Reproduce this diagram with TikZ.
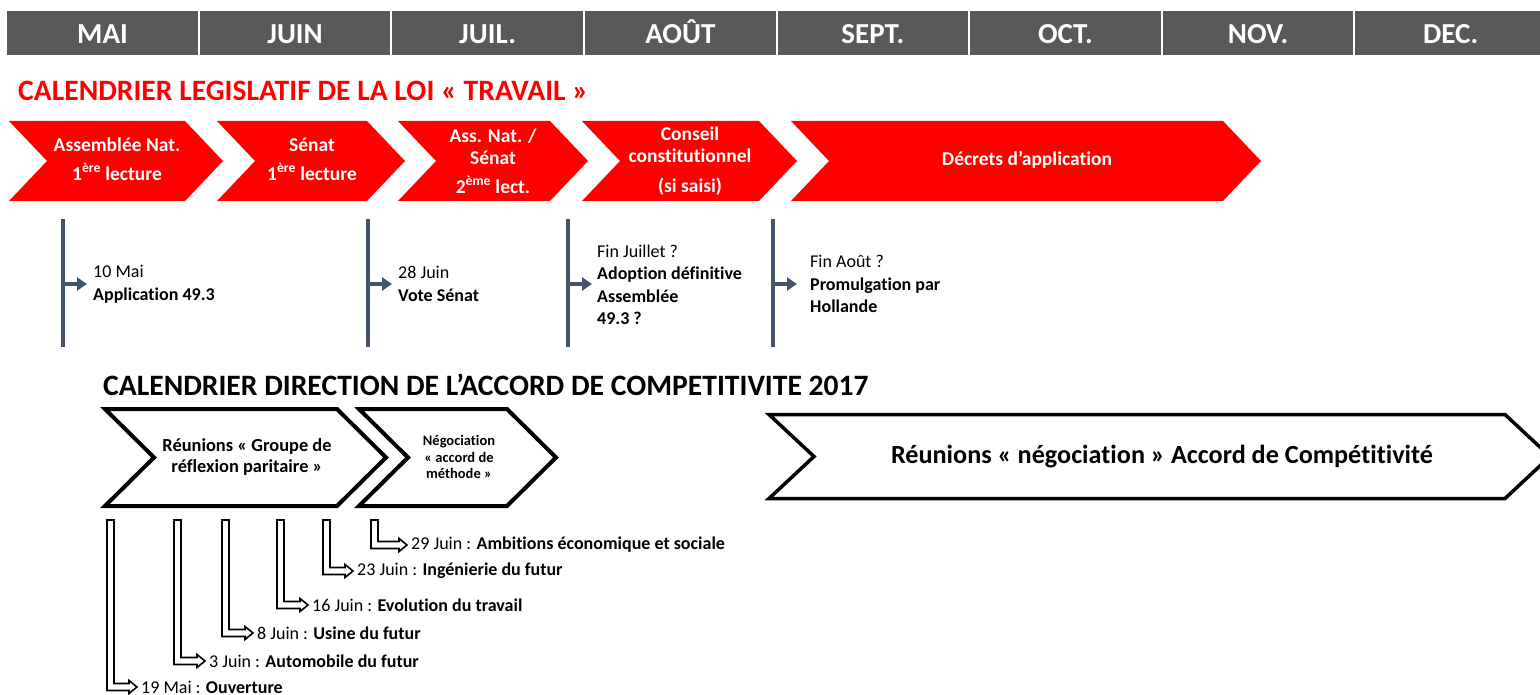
\documentclass[tikz,border=0pt]{standalone}
\usepackage{fontspec}
\setmainfont{Carlito}[Ligatures=NoCommon]
\usetikzlibrary{arrows.meta}

\definecolor{moisgris}{HTML}{595959}
\definecolor{ardoise}{HTML}{44546A}
\definecolor{rouge}{HTML}{FF0000}

\tikzset{
  mois/.style={anchor=north west, fill=moisgris, text=white, inner sep=0pt,
    minimum width=190.6pt, minimum height=44pt, text height=20pt, text depth=0pt,
    font=\bfseries\fontsize{29}{31}\selectfont},
  titre/.style={anchor=base west, inner sep=0pt, font=\bfseries\fontsize{29.6}{32}\selectfont},
  etape/.style={fill=rouge},
  etape texte/.style={text=white, align=center, inner sep=0pt,
    font=\bfseries\fontsize{19.5}{22}\selectfont},
  phase/.style={draw=black, line width=4pt, fill=white, line join=miter},
  phase texte/.style={align=center, inner sep=0pt, font=\bfseries\fontsize{18.4}{21}\selectfont},
  jalon/.style={draw=ardoise, line width=4pt},
  fleche/.style={draw=ardoise, line width=4pt, -{Triangle[length=10pt, width=13pt]}},
  note/.style={anchor=west, align=left, inner sep=0pt, font=\fontsize{18}{22.5}\selectfont},
  coude/.style={draw=black, line width=1.6pt, fill=white, line join=miter},
  reunion/.style={anchor=west, inner sep=0pt, font=\fontsize{18}{20}\selectfont},
}

\begin{document}
\begin{tikzpicture}[x=1pt, y=-1pt, >=stealth]
  \useasboundingbox (0,0) rectangle (1540,695);

  % months
  \foreach \m [count=\i from 0] in {MAI,JUIN,JUIL.,AOÛT,SEPT.,OCT.,NOV.,DEC.}
  \node [mois] (mois-\i) at (7+\i*192.6, 11) {\m};

  % titles
  \node [titre, text=rouge] (titre-loi) at (18,101) {CALENDRIER LEGISLATIF DE LA LOI « TRAVAIL »};
  \node [titre] (titre-accord) at (103,395) {CALENDRIER DIRECTION DE L’ACCORD DE COMPETITIVITE 2017};

  % red steps
  \foreach \g/\d in {9/185, 217/367, 398/550, 582/759, 791/1223}
  \path [etape] (\g,121) -- (\d,121) -- (\d+38,161) -- (\d,201) -- (\g,201) -- (\g+38,161) -- cycle;

  \node [etape texte] (etape-1) at (117,159) {Assemblée Nat.\\[7pt]1\textsuperscript{ère} lecture};
  \node [etape texte] (etape-2) at (312,159) {Sénat\\[7pt]1\textsuperscript{ère} lecture};
  \node [etape texte] (etape-3) at (493,161) {Ass. Nat. /\\Sénat\\[7pt]2\textsuperscript{ème} lect.};
  \node [etape texte] (etape-4) at (690,161) {Conseil\\constitutionnel\\[8pt](si saisi)};
  \node [etape texte] (etape-5) at (1027,160) {Décrets d’application};

  % milestones
  \foreach \x [count=\i] in {63,368,568,773} {
    \draw [jalon] (\x,219) -- (\x,347);
    \coordinate (tick-\i) at (\x,284);
    \coordinate (tip-\i) at (\x+24,284);
    \draw [fleche] (tick-\i) -- (tip-\i);
  }

  \node [note] (note-1) at (93,284) {10 Mai\\\textbf{Application 49.3}};
  \node [note] (note-2) at (398,284) {28 Juin\\\textbf{Vote Sénat}};
  \node [note] (note-3) at (597,285) {Fin Juillet ?\\\textbf{Adoption définitive}\\\textbf{Assemblée}\\\textbf{49.3 ?}};
  \node [note] (note-4) at (810,284) {Fin Août ?\\\textbf{Promulgation par}\\\textbf{Hollande}};

  % phases
  \path [phase] (105,409) -- (337,409) -- (386,457.5) -- (337,506) -- (105,506) -- (154,457.5) -- cycle;
  \path [phase] (359,409) -- (507,409) -- (556,457.5) -- (507,506) -- (359,506) -- (408,457.5) -- cycle;
  \path [phase, line width=3.5pt] (769,414.5) -- (1505,414.5) -- (1550,456.5) -- (1505,498.5) -- (769,498.5) -- (814,456.5) -- cycle;

  \node [phase texte] (phase-groupe) at (247,457) {Réunions « Groupe de\\réflexion paritaire »};
  \node [phase texte, font=\bfseries\fontsize{14.5}{16.5}\selectfont] (phase-methode) at (459,457) {Négociation\\« accord de\\méthode »};
  \node [phase texte, font=\bfseries\fontsize{26.2}{28}\selectfont] (phase-negociation) at (1162,457) {Réunions « négociation » Accord de Compétitivité};

  % meetings
  \foreach \x/\y/\t/\d/\l [count=\i] in {107/687/137/19 Mai/Ouverture, 174/661/205/3 Juin/Automobile du futur,
      222/633/253/8 Juin/Usine du futur, 277/605/308/16 Juin/Evolution du travail,
      323/571/353/23 Juin/Ingénierie du futur, 371/545/407/29 Juin/Ambitions économique et sociale} {
    \path [coude] (\x,520) -- (\x+7,520) -- (\x+7,\y-3.5) -- (\t-8,\y-3.5) -- (\t-8,\y-6.5) -- (\t,\y)
      -- (\t-8,\y+6.5) -- (\t-8,\y+3.5) -- (\x,\y+3.5) -- cycle;
    \node [reunion] (reunion-\i) at (\t+4,\y) {\d{} : \textbf{\l}};
  }
\end{tikzpicture}
\end{document}
